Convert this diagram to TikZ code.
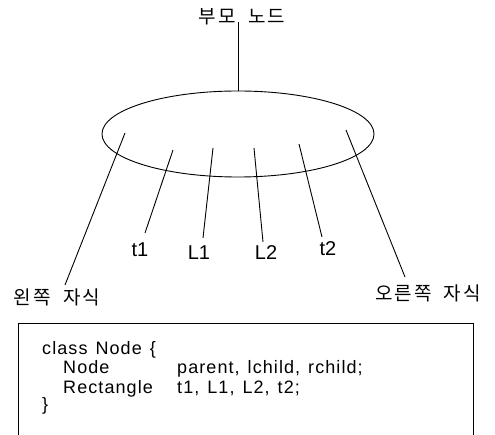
\documentclass[tikz,border=0pt]{standalone}
\usepackage{fontspec}
\setmainfont{Liberation Sans}
\newfontfamily\kr[LetterSpace=10]{Noto Sans CJK KR}
\newfontfamily\codefont[LetterSpace=6]{Liberation Sans}
\newcommand\wgap{\hspace*{8pt}}
\usetikzlibrary{shapes.geometric}
\begin{document}
\begin{tikzpicture}[x=1pt,y=-1pt,
  ln/.style={line width=0.9pt},
  krlabel/.style={font=\kr\fontsize{19}{22}\selectfont, inner sep=0pt},
  lab/.style={font=\fontsize{20}{22}\selectfont, inner sep=0pt},
  code/.style={font=\codefont\fontsize{18}{20}\selectfont, inner sep=0pt, anchor=base west}]
\clip (0,0) rectangle (495,435);
\node[ellipse, draw, ln, minimum width=272pt, minimum height=86pt, inner sep=0pt] (E) at (238,134) {};
% top
\node[krlabel] (P) at (242,17) {부모\ \ 노드};
\coordinate (ptop) at (238,22);
\draw[ln] (ptop) -- (E.north);
% labels
\node[krlabel] (LC) at (57,297) {왼쪽\ \ 자식};
\node[krlabel] (RC) at (428,293) {오른쪽\ \ 자식};
\node[lab] (T1) at (140,250) {t1};
\node[lab] (L1) at (199,253) {L1};
\node[lab] (L2) at (266,253) {L2};
\node[lab] (T2) at (328,249) {t2};
% inner coordinates
\coordinate (lcin) at (125,133);
\coordinate (t1in) at (173,150);
\coordinate (l1in) at (213,148);
\coordinate (l2in) at (254,148);
\coordinate (t2in) at (299,144);
\coordinate (rcin) at (346,130);
% outer ends
\coordinate (lcout) at (65,285);
\coordinate (t1out) at (145,233);
\coordinate (l1out) at (203,238);
\coordinate (l2out) at (263,242);
\coordinate (t2out) at (322,237);
\coordinate (rcout) at (405,277);
\draw[ln] (lcin) -- (lcout);
\draw[ln] (t1in) -- (t1out);
\draw[ln] (l1in) -- (l1out);
\draw[ln] (l2in) -- (l2out);
\draw[ln] (t2in) -- (t2out);
\draw[ln] (rcin) -- (rcout);
% code box
\node[draw, ln, rectangle, anchor=north west, minimum width=455pt, minimum height=130pt, inner sep=0pt] (box) at (18,323) {};
\node[code] (c1) at (42,355) {class\wgap Node\wgap\{};
\node[code] (c2) at (63,373) {Node};
\node[code] (c3) at (177,373) {parent,\wgap lchild,\wgap rchild;};
\node[code] (c4) at (63,393) {Rectangle};
\node[code] (c5) at (177,393) {t1,\wgap L1,\wgap L2,\wgap t2;};
\node[code] (c6) at (42,410) {\}};
\end{tikzpicture}
\end{document}
